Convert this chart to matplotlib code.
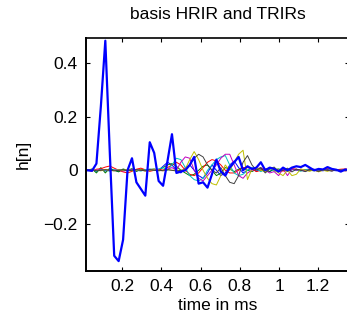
import numpy as np
import matplotlib
matplotlib.use("Agg")
import matplotlib.pyplot as plt

plt.rcParams['font.family'] = ['Liberation Sans', 'DejaVu Sans']

fs_khz = 44.1  # sample rate, samples per ms

# basis HRIR (thick blue), samples n = 0..60
hrir = [0.0, 0.0, -0.002, 0.025, 0.24, 0.485, 0.07, -0.32, -0.34, -0.26,
        0.0, 0.045, -0.045, -0.07, -0.095, 0.105, 0.065, -0.04, -0.058, 0.035,
        0.135, -0.01, -0.005, 0.0, 0.02, 0.05, -0.05, -0.045, -0.065, -0.015,
        0.04, -0.005, -0.02, 0.01, 0.03, 0.05, 0.0, 0.015, 0.005, 0.01,
        0.03, 0.0, 0.01, 0.005, -0.005, 0.01, 0.0, 0.01, 0.015, 0.012,
        0.02, 0.01, 0.0, 0.005, 0.003, 0.012, 0.005, 0.002, -0.005, 0.003,
        0.0]

# TRIRs (thin lines), same samples
trir_b = [0.0, 0.0, 0.003, -0.004, 0.005, -0.003, 0.004, 0.0, -0.004, 0.003,
          0.0, 0.004, -0.003, 0.002, 0.0, 0.004, 0.002, 0.0, 0.015, 0.03,
          0.02, 0.0, -0.01, 0.01, 0.02, 0.0, -0.02, -0.03, -0.01, 0.02,
          0.0, -0.02, -0.01, 0.02, 0.035, 0.01, -0.01, 0.0, 0.008, -0.004,
          0.005, 0.0, -0.005, 0.004, 0.0, 0.003, -0.004, 0.002, 0.004, 0.0,
          -0.003, 0.002, 0.004, 0.0, -0.002, 0.003, 0.0, -0.002, 0.002, 0.0,
          0.0]
trir_g = [0.0, 0.0, 0.005, -0.01, 0.01, -0.01, 0.008, 0.0, -0.006, 0.005,
          0.0, 0.006, -0.004, 0.004, 0.0, 0.003, 0.005, 0.0, 0.01, 0.02,
          0.025, 0.015, 0.0, -0.01, -0.02, -0.015, 0.0, 0.015, 0.02, 0.0,
          -0.02, -0.01, 0.01, 0.005, -0.005, 0.004, 0.008, 0.0, -0.005, 0.004,
          0.006, 0.0, -0.004, 0.003, 0.005, 0.0, -0.003, 0.004, 0.002, -0.002,
          0.003, 0.0, -0.002, 0.002, 0.003, 0.0, -0.002, 0.002, 0.0, 0.001,
          0.0]
trir_r = [0.0, 0.0, -0.003, 0.004, 0.006, 0.012, 0.016, 0.008, 0.0, -0.006,
          -0.01, -0.004, 0.004, 0.008, 0.002, -0.004, 0.0, 0.004, 0.0, 0.01,
          0.02, 0.03, 0.02, 0.0, -0.015, -0.02, -0.01, 0.01, 0.03, 0.04,
          0.035, 0.02, 0.0, -0.01, -0.01, 0.0, 0.01, 0.01, 0.005, -0.005,
          0.0, 0.005, 0.008, 0.004, 0.0, -0.003, 0.002, 0.006, 0.004, 0.0,
          0.002, 0.005, 0.003, 0.0, 0.003, 0.006, 0.004, 0.002, 0.004, 0.005,
          0.004]
trir_c = [0.0, 0.0, 0.002, -0.003, 0.003, 0.0, -0.003, 0.002, 0.003, 0.0,
          -0.002, 0.002, 0.0, -0.003, 0.002, 0.004, 0.0, 0.005, 0.01, 0.0,
          0.02, 0.045, 0.04, 0.01, -0.02, -0.035, -0.04, -0.03, 0.0, 0.02,
          0.04, 0.05, 0.055, 0.02, -0.01, -0.02, -0.015, 0.0, 0.01, 0.005,
          -0.005, 0.004, 0.006, -0.003, 0.0, 0.004, -0.002, 0.003, 0.0, -0.003,
          0.002, 0.004, 0.0, -0.002, 0.002, 0.0, 0.002, -0.001, 0.0, 0.002,
          0.0]
trir_m = [0.0, 0.0, -0.002, 0.002, 0.0, 0.003, -0.002, 0.0, 0.002, -0.003,
          0.0, 0.002, 0.003, 0.0, -0.002, 0.0, 0.003, 0.0, -0.002, 0.004,
          0.01, 0.0, 0.03, 0.05, 0.045, 0.0, -0.03, -0.04, -0.02, 0.0,
          0.02, 0.045, 0.06, 0.06, 0.02, -0.02, -0.03, -0.01, 0.0, 0.005,
          0.01, 0.0, -0.01, -0.005, -0.02, 0.005, -0.02, 0.005, 0.0, 0.004,
          -0.003, 0.002, 0.0, -0.004, 0.002, 0.0, -0.002, 0.003, 0.0, -0.002,
          0.0]
trir_y = [0.0, 0.0, 0.002, 0.0, -0.002, 0.003, 0.0, -0.002, 0.002, 0.0,
          0.003, -0.002, 0.0, 0.002, -0.003, 0.0, 0.002, 0.0, -0.002, 0.003,
          0.0, 0.0, 0.0, 0.005, 0.04, 0.07, 0.04, 0.0, -0.03, -0.05,
          -0.055, -0.02, 0.02, 0.0, 0.03, 0.06, 0.075, -0.035, 0.005, 0.01,
          0.0, -0.005, 0.008, 0.0, -0.01, -0.02, 0.0, -0.02, -0.015, 0.005,
          0.0, -0.004, 0.003, -0.006, 0.0, -0.004, 0.002, 0.0, -0.003, 0.001,
          0.0]
trir_k = [0.0, 0.0, 0.002, -0.002, 0.0, 0.002, 0.0, -0.002, 0.0, 0.002,
          -0.002, 0.0, 0.002, 0.0, -0.002, 0.002, 0.0, -0.002, 0.0, 0.002,
          0.0, -0.003, 0.0, 0.0, 0.02, 0.045, 0.06, 0.05, 0.02, 0.0,
          -0.01, 0.01, -0.02, -0.045, -0.05, -0.02, 0.03, 0.055, 0.02, 0.0,
          0.01, -0.01, 0.005, 0.012, -0.005, 0.0, 0.008, -0.006, 0.004, 0.0,
          -0.005, 0.003, 0.0, -0.004, 0.002, 0.0, -0.003, 0.002, 0.0, -0.002,
          0.0]

trirs = [trir_b, trir_g, trir_r, trir_c, trir_m, trir_y, trir_k]
trir_colors = [(0, 0, 1), (0, 0.5, 0), (1, 0, 0), (0, 0.75, 0.75),
               (0.75, 0, 0.75), (0.75, 0.75, 0), (0.25, 0.25, 0.25)]

t = np.arange(len(hrir)) / fs_khz  # time in ms

fig = plt.figure(figsize=(3.47, 3.2), dpi=100)
ax = fig.add_axes([86/347, 1 - 271/320, (349 - 86)/347, (271 - 37.5)/320])

for tr, col in zip(trirs, trir_colors):
    ax.plot(t, tr, color=col, lw=0.7)
ax.plot(t, hrir, color=(0, 0, 1), lw=1.6)

ax.set_xlim(0.0148, 1.357)
ax.set_ylim(-0.377, 0.497)
ax.set_xticks([0.2, 0.4, 0.6, 0.8, 1.0, 1.2])
ax.set_xticklabels(['0.2', '0.4', '0.6', '0.8', '1', '1.2'])
ax.set_yticks([-0.2, 0, 0.2, 0.4])
ax.set_yticklabels(['\u22120.2', '0', '0.2', '0.4'])
ax.tick_params(direction='in', length=3, width=0.8, labelsize=12.5,
               top=True, right=True, pad=6)
for s in ax.spines.values():
    s.set_linewidth(1.2)
    s.set_color('black')
ax.spines['left'].set_linewidth(1.4)
ax.spines['bottom'].set_linewidth(1.4)

ax.set_title('basis HRIR and TRIRs', fontsize=12.5, pad=13)
ax.set_xlabel('time in ms', fontsize=12.5, labelpad=3)
ax.set_ylabel('h[n]', fontsize=12.5, labelpad=9)

plt.savefig("out.png", dpi=100)
